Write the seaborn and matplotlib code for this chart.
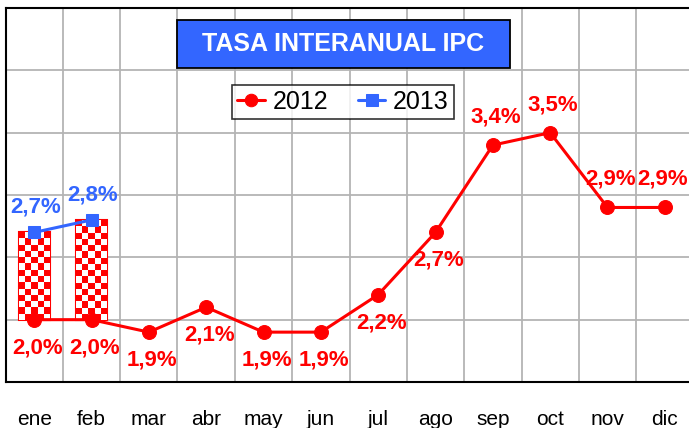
import numpy as np
import pandas as pd
import matplotlib
matplotlib.use('Agg')
import matplotlib.pyplot as plt
import seaborn as sns

# data
months = ['ene', 'feb', 'mar', 'abr', 'may', 'jun', 'jul', 'ago', 'sep', 'oct', 'nov', 'dic']
ipc_2012 = [2.0, 2.0, 1.9, 2.1, 1.9, 1.9, 2.2, 2.7, 3.4, 3.5, 2.9, 2.9]
ipc_2013 = [2.7, 2.8]
# label placement for 2012: below (-1) or above (+1) the point
pos_2012 = [-1, -1, -1, -1, -1, -1, -1, -1, 1, 1, 1, 1]

red = '#FF0000'
blue = '#3366FF'

sns.set_style('white')
plt.rcParams['font.family'] = ['Liberation Sans', 'DejaVu Sans']
plt.rcParams['text.color'] = 'black'
plt.rcParams['xtick.color'] = 'black'

fig = plt.figure(figsize=(6.89, 4.28), dpi=100)
# plot area runs slightly past the right edge, as in the reference
ax = fig.add_axes([5.5 / 689, 1 - 382 / 428, 688 / 689, 374 / 428])

x = np.arange(len(months))
df12 = pd.DataFrame({'mes': x, 'valor': ipc_2012})
df13 = pd.DataFrame({'mes': x[:len(ipc_2013)], 'valor': ipc_2013})

# up/down bars between 2012 and 2013 with checker fill
n13 = len(ipc_2013)
base = np.array(ipc_2012[:n13])
diff = np.array(ipc_2013) - base
bars = ax.bar(x[:n13], diff, bottom=base, width=0.54, facecolor='white',
              edgecolor=red, linewidth=1.5, zorder=2)
cmap = matplotlib.colors.ListedColormap(['white', red])
for b in bars:
    x0, y0, w, h = b.get_x(), b.get_y(), b.get_width(), b.get_height()
    rows = int(round(h / 0.7 * 14))
    img = np.indices((rows, 5)).sum(axis=0) % 2
    im = ax.imshow(img, cmap=cmap, extent=(x0, x0 + w, y0, y0 + h),
                   aspect='auto', interpolation='nearest', zorder=2.5, origin='lower')
    im.set_clip_path(b)

sns.lineplot(data=df12, x='mes', y='valor', ax=ax, color=red, marker='o',
             markersize=10, markeredgecolor=red, linewidth=2.2, label='2012', zorder=4)
sns.lineplot(data=df13, x='mes', y='valor', ax=ax, color=blue, marker='s',
             markersize=9, markeredgecolor=blue, linewidth=2.2, label='2013', zorder=4)

ax.set_xlim(-0.5, len(months) - 0.5)
ax.set_ylim(1.5, 4.5)
ax.set_xticks(x)
ax.set_xticklabels(months, fontsize=15, color='black',
                   family=['Liberation Sans Narrow', 'Liberation Sans', 'DejaVu Sans'])
ax.tick_params(axis='x', length=0, pad=20)
ax.set_yticks(np.arange(1.5, 4.51, 0.5))
ax.set_yticklabels([])
ax.tick_params(axis='y', length=0)
ax.set_xticks(np.arange(-0.5, len(months), 1), minor=True)
ax.grid(False)
ax.grid(True, which='minor', axis='x', color='#b4b4b4', linewidth=1.3)
ax.grid(True, which='major', axis='y', color='#b4b4b4', linewidth=1.3)
ax.tick_params(which='minor', length=0)
ax.set_xlabel('')
ax.set_ylabel('')
for s in ['left', 'top', 'bottom']:
    ax.spines[s].set_color('black')
    ax.spines[s].set_linewidth(1.5)
ax.spines['right'].set_visible(False)

for i, v in enumerate(ipc_2012):
    xoff = 3 if i < len(ipc_2012) - 1 else -2
    ax.annotate(f'{v:.1f}%'.replace('.', ','), (i, v), xytext=(xoff, 28 * pos_2012[i]),
                textcoords='offset pixels', ha='center', va='center', color=red,
                fontsize=16, fontweight='bold', zorder=5)
for i, v in enumerate(ipc_2013):
    ax.annotate(f'{v:.1f}%'.replace('.', ','), (i, v), xytext=(1, 25),
                textcoords='offset pixels', ha='center', va='center', color=blue,
                fontsize=16, fontweight='bold', zorder=5)

leg = ax.legend(loc='center', bbox_to_anchor=(343 / 689, 1 - 102 / 428),
                bbox_transform=fig.transFigure, ncol=2, fontsize=18, frameon=True,
                fancybox=False, edgecolor='black', handlelength=1.1,
                handletextpad=0.3, columnspacing=1.2, borderpad=0.2,
                markerscale=0.9)
leg.get_frame().set_linewidth(1.2)

# title box
fig.patches.append(matplotlib.patches.Rectangle(
    (177 / 689, 1 - 68 / 428), 333 / 689, 48 / 428, transform=fig.transFigure,
    facecolor=blue, edgecolor='black', linewidth=1.3, zorder=9))
fig.text(343 / 689, 1 - 44 / 428, 'TASA INTERANUAL IPC', ha='center', va='center',
         color='white', fontsize=18, fontweight='bold', zorder=10)

fig.savefig('out.png', dpi=100)
